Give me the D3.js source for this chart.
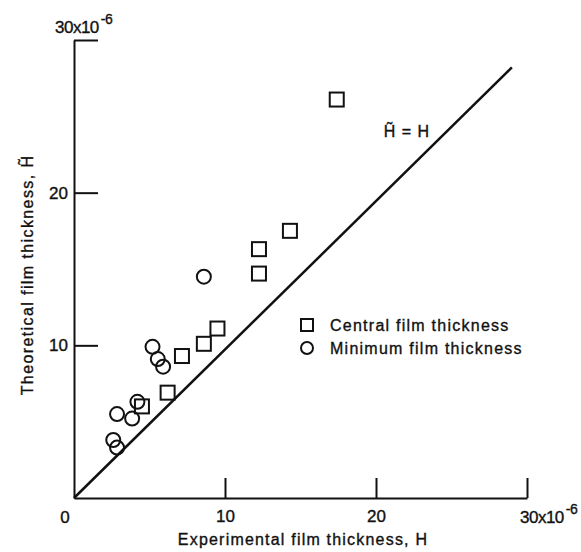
<!DOCTYPE html>
<html>
<head>
<meta charset="utf-8">
<script src="https://cdn.jsdelivr.net/npm/d3@7"></script>
<style>
  body { margin: 0; background: #fff; }
  text { font-family: "Liberation Sans", Arial, sans-serif; fill: #111; stroke: #111; stroke-width: 0.35px; }
</style>
</head>
<body>
<script>
// central film thickness (squares), values in units of 1e-6
var centralX = [17.4, 14.3, 12.25, 12.25, 9.5, 8.6, 7.15, 6.2, 4.5];
var centralY = [26.1, 17.5, 16.3, 14.7, 11.1, 10.1, 9.3, 6.9, 6.0];

// minimum film thickness (circles)
var minimumX = [8.6, 5.2, 5.55, 5.9, 4.2, 2.85, 3.85, 2.6, 2.85];
var minimumY = [14.5, 9.9, 9.1, 8.6, 6.3, 5.5, 5.2, 3.8, 3.3];

// reference line H~ = H
var lineX = [0, 29];
var lineY = [0, 28.2];

var xTicks = [10, 20, 30];
var yTicks = [10, 20, 30];
var legendLabels = ["Central film thickness", "Minimum film thickness"];

window.onload = function() {
    var w = 581, h = 552;

    var svg = d3.select("body").append("svg")
        .attr("width", w)
        .attr("height", h);

    var x = d3.scaleLinear().domain([0, 30]).range([74, 527]);
    var y = d3.scaleLinear().domain([0, 30]).range([498, 40]);

    // x axis, ticks pointing up
    svg.append("g")
        .attr("transform", "translate(0," + y(0) + ")")
        .call(d3.axisBottom(x).tickValues(xTicks).tickSize(-20).tickSizeOuter(0)
            .tickPadding(12).tickFormat(function(d) { return d === 30 ? "" : d; }));

    // y axis, ticks pointing right
    svg.append("g")
        .attr("transform", "translate(" + x(0) + ",0)")
        .call(d3.axisLeft(y).tickValues(yTicks).tickSize(-24).tickSizeOuter(0)
            .tickPadding(6).tickFormat(function(d) { return d === 30 ? "" : d; }));

    svg.selectAll(".domain, .tick line")
        .attr("stroke", "#111")
        .attr("stroke-width", 2);
    svg.selectAll(".tick text")
        .style("font-size", "17px")
        .attr("fill", "#111");

    // origin label
    svg.append("text")
        .attr("x", x(0) - 9).attr("y", y(0) + 25)
        .attr("text-anchor", "middle")
        .style("font-size", "17px")
        .text("0");

    // 30x10^-6 labels
    function sciLabel(px, py) {
        var t = svg.append("text").attr("x", px).attr("y", py).style("font-size", "17px")
            .style("letter-spacing", "-0.5px");
        t.append("tspan").text("30x10");
        t.append("tspan").attr("dy", -9).attr("dx", 2).style("font-size", "14px").text("-6");
    }
    sciLabel(x(30) - 7, y(0) + 25);
    sciLabel(55, y(30) - 7);

    // axis titles
    svg.append("text")
        .attr("x", 303).attr("y", 545)
        .attr("text-anchor", "middle")
        .style("font-size", "16px")
        .style("letter-spacing", "1.2px")
        .text("Experimental film thickness, H");

    svg.append("text")
        .attr("transform", "translate(33,275) rotate(-90)")
        .attr("text-anchor", "middle")
        .style("font-size", "16px")
        .style("letter-spacing", "1.4px")
        .text("Theoretical film thickness, H\u0303");

    // reference line
    var line = d3.line()
        .x(function(d) { return x(d[0]); })
        .y(function(d) { return y(d[1]); });
    svg.append("path")
        .datum(d3.zip(lineX, lineY))
        .attr("d", line)
        .attr("fill", "none")
        .attr("stroke", "#111")
        .attr("stroke-width", 2.5);

    svg.append("text")
        .attr("x", 407).attr("y", 137)
        .attr("text-anchor", "middle")
        .style("font-size", "16px")
        .style("letter-spacing", "1px")
        .text("H\u0303 = H");

    var s = 14;
    svg.selectAll(".central")
        .data(d3.zip(centralX, centralY))
        .enter().append("rect")
        .attr("class", "central")
        .attr("x", function(d) { return x(d[0]) - s / 2; })
        .attr("y", function(d) { return y(d[1]) - s / 2; })
        .attr("width", s).attr("height", s)
        .attr("fill", "none")
        .attr("stroke", "#111")
        .attr("stroke-width", 2);

    svg.selectAll(".minimum")
        .data(d3.zip(minimumX, minimumY))
        .enter().append("circle")
        .attr("class", "minimum")
        .attr("cx", function(d) { return x(d[0]); })
        .attr("cy", function(d) { return y(d[1]); })
        .attr("r", 7)
        .attr("fill", "none")
        .attr("stroke", "#111")
        .attr("stroke-width", 2);

    // legend
    var legend = svg.append("g").attr("transform", "translate(307,325)");
    legend.append("rect")
        .attr("x", -6).attr("y", -6).attr("width", 12).attr("height", 12)
        .attr("fill", "none").attr("stroke", "#111").attr("stroke-width", 2);
    legend.append("circle")
        .attr("cx", 0).attr("cy", 23).attr("r", 6)
        .attr("fill", "none").attr("stroke", "#111").attr("stroke-width", 2);
    legend.selectAll(".leg")
        .data(legendLabels)
        .enter().append("text")
        .attr("x", 23)
        .attr("y", function(d, i) { return 6 + i * 23; })
        .style("font-size", "16px")
        .style("letter-spacing", "1.25px")
        .text(function(d) { return d; });
};
</script>
</body>
</html>
